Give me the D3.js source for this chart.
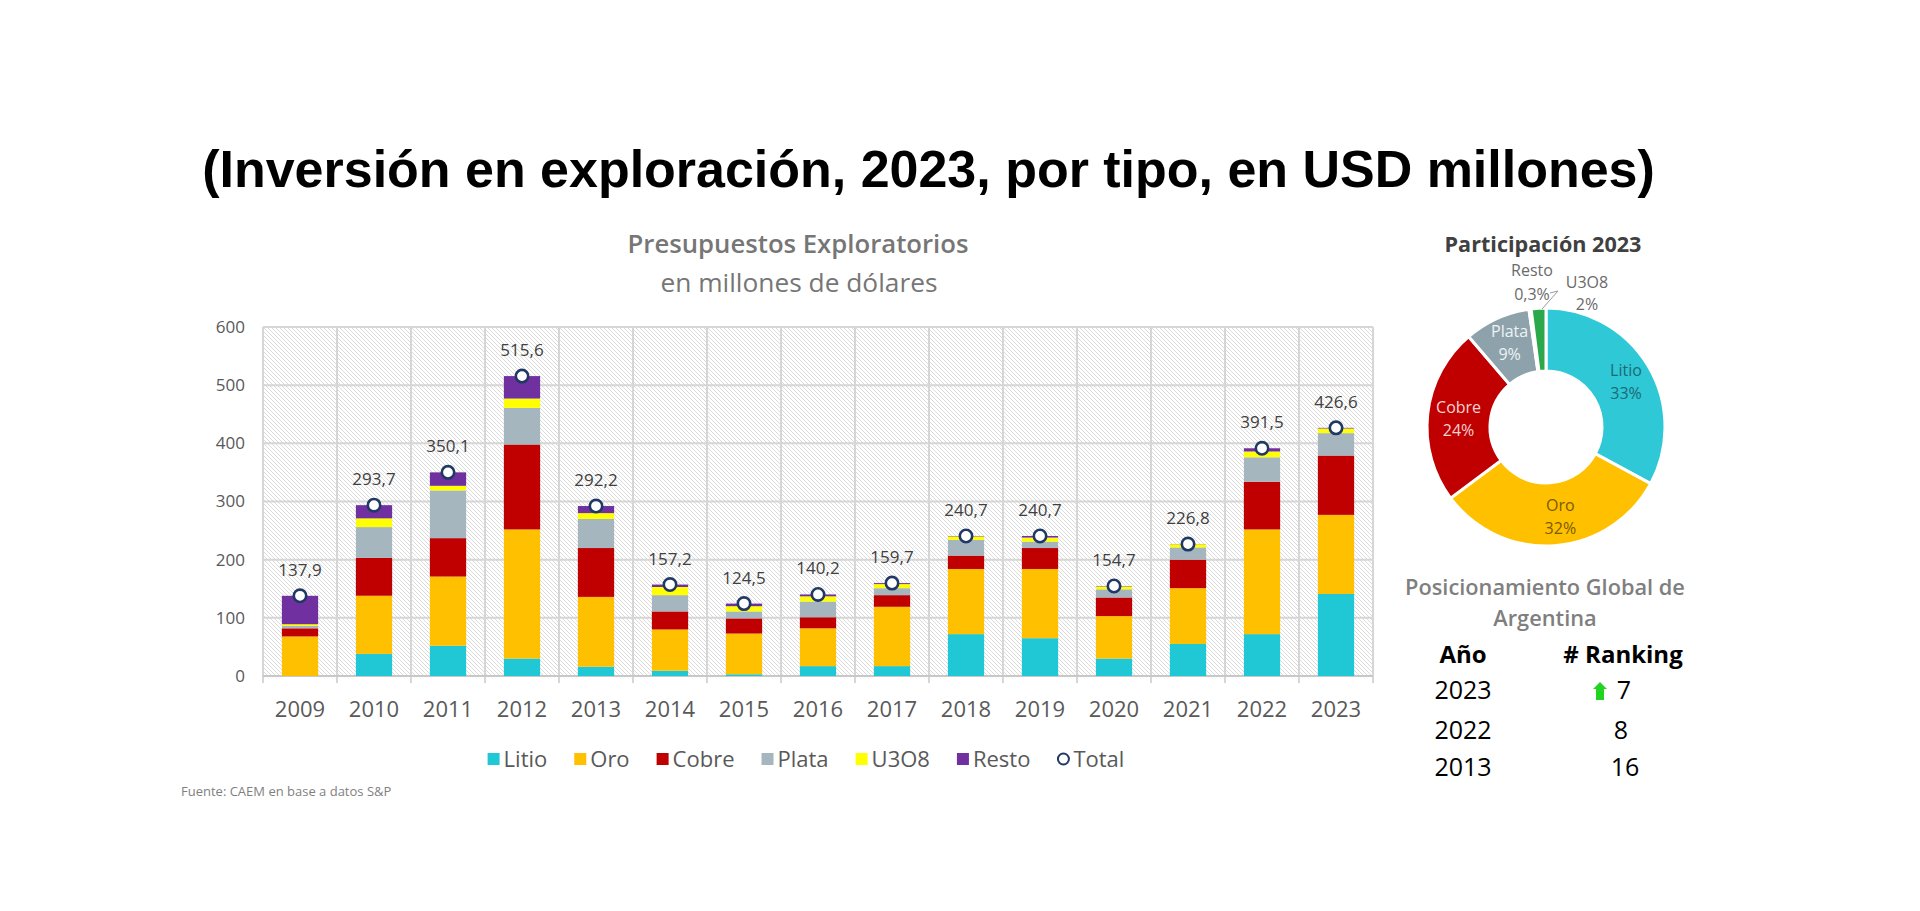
<!DOCTYPE html>
<html><head><meta charset="utf-8">
<script src="https://cdn.jsdelivr.net/npm/d3@7/dist/d3.min.js"></script>
<style>body{margin:0;background:#fff;} svg{display:block;}</style>
</head><body>
<svg id="c" width="1920" height="911"></svg>
<script>
// ---------- DATA ----------
const years  = ["2009","2010","2011","2012","2013","2014","2015","2016","2017","2018","2019","2020","2021","2022","2023"];
const litio  = [0, 38, 52, 30, 16, 9, 3, 17, 17, 72, 65, 30, 55, 72, 141];
const oro    = [68, 100, 119, 222, 120, 71, 70, 65, 102, 112, 119, 73, 96, 180, 136];
const cobre  = [14, 65, 66, 146, 84, 31, 26, 19, 20, 23, 36, 32, 49, 82, 102];
const plata  = [4, 53, 82, 63, 50, 28, 12, 27, 12, 27, 11, 14, 21, 42, 38.5];
const u3o8   = [3, 15, 8, 16, 10, 14, 9, 9, 7, 6, 7, 5, 5.5, 10, 8];
const resto  = [48.9, 22.7, 23.1, 38.6, 12.2, 4.2, 4.5, 3.2, 1.7, 0.7, 2.7, 0.7, 0.3, 5.5, 1.1];
const totals = [137.9, 293.7, 350.1, 515.6, 292.2, 157.2, 124.5, 140.2, 159.7, 240.7, 240.7, 154.7, 226.8, 391.5, 426.6];
const yTicks = [0, 100, 200, 300, 400, 500, 600];
const seriesNames = ["Litio", "Oro", "Cobre", "Plata", "U3O8", "Resto"];
const seriesColors = ["#1FC8D4", "#FFC000", "#C00000", "#A6B6BF", "#FFFF00", "#7030A0"];

const pieNames  = ["Litio", "Oro", "Cobre", "Plata", "Resto", "U3O8"];
const pieValues = [33, 32, 24, 9, 0.3, 2];
const pieLabels = ["33%", "32%", "24%", "9%", "0,3%", "2%"];
const pieColors = ["#2EC8D6", "#FFC000", "#C00000", "#8EA2AC", "#7030A0", "#2BA84A"];
const pieTextColors = ["#1E6A73", "#7A5A00", "#F6D3D3", "#EEF2F5"];

const rankYears  = ["2023", "2022", "2013"];
const rankValues = ["7", "8", "16"];

// ---------- SETUP ----------
const svg = d3.select("#c");
const SANS = "'Open Sans', 'Noto Sans', sans-serif";
function fit(sel, w) {
  const fs = parseFloat(sel.attr("font-size"));
  const cw = sel.node().getComputedTextLength();
  sel.attr("font-size", (fs * w / cw).toFixed(2));
}

// pattern
const defs = svg.append("defs");
const pat = defs.append("pattern").attr("id", "hatch").attr("patternUnits", "userSpaceOnUse")
  .attr("width", 4).attr("height", 4);
pat.append("rect").attr("width", 4).attr("height", 4).attr("fill", "#ffffff");
pat.append("path").attr("d", "M0,0 L4,4 M-1,3 L1,5 M3,-1 L5,1")
  .attr("stroke", "#dcdcdc").attr("stroke-width", 1);

// Title
const title = svg.append("text").attr("x", 928.5).attr("y", 187).attr("text-anchor", "middle")
  .attr("font-family", "'Liberation Sans', Arial, sans-serif").attr("font-weight", "bold")
  .attr("font-size", 52).attr("fill", "#000")
  .text("(Inversión en exploración, 2023, por tipo, en USD millones)");
fit(title, 1453);

const st1 = svg.append("text").attr("x", 798).attr("y", 253).attr("text-anchor", "middle")
  .attr("font-family", SANS).attr("font-weight", 600).attr("font-size", 22).attr("fill", "#767676")
  .text("Presupuestos Exploratorios");
fit(st1, 341);
const st2 = svg.append("text").attr("x", 799).attr("y", 292).attr("text-anchor", "middle")
  .attr("font-family", SANS).attr("font-size", 22).attr("fill", "#767676")
  .text("en millones de dólares");
fit(st2, 277);

// ---------- BAR CHART ----------
const x0 = 263, x1 = 1373;
const x = d3.scaleBand().domain(years).range([x0, x1]).paddingInner(0.51).paddingOuter(0.255);
const y = d3.scaleLinear().domain([0, 600]).range([676, 327]);
const step = x.step();

const plot = svg.append("g");
plot.append("rect").attr("x", x0).attr("y", y(600)).attr("width", x1 - x0).attr("height", y(0) - y(600))
  .attr("fill", "url(#hatch)");

// gridlines
plot.selectAll("line.hg").data(yTicks.filter(d => d > 0)).join("line").attr("class", "hg")
  .attr("x1", x0).attr("x2", x1).attr("y1", d => y(d)).attr("y2", d => y(d))
  .attr("stroke", "#d6d6d6").attr("stroke-width", 2);
const bounds = years.map(d => x(d) + x.bandwidth() / 2 - step / 2).concat([x1]);
plot.selectAll("line.vg").data(bounds).join("line").attr("class", "vg")
  .attr("x1", d => d).attr("x2", d => d).attr("y1", y(600)).attr("y2", y(0) + 7)
  .attr("stroke", "#d6d6d6").attr("stroke-width", 2);
plot.append("line").attr("x1", x0).attr("x2", x1).attr("y1", y(0)).attr("y2", y(0))
  .attr("stroke", "#c8c8c8").attr("stroke-width", 2);

// axes
const yAxis = svg.append("g").attr("transform", `translate(${x0},0)`)
  .call(d3.axisLeft(y).tickValues(yTicks).tickSize(0).tickPadding(18));
yAxis.select(".domain").remove();
yAxis.selectAll("text").attr("font-family", SANS).attr("font-size", 17).attr("fill", "#595959");

const xAxis = svg.append("g").attr("transform", `translate(0,${y(0)})`)
  .call(d3.axisBottom(x).tickSize(0).tickPadding(25));
xAxis.select(".domain").remove();
xAxis.selectAll("text").attr("font-family", SANS).attr("font-size", 22).attr("fill", "#595959");

// stacked bars
const table = years.map((yr, i) => ({
  year: yr, Litio: litio[i], Oro: oro[i], Cobre: cobre[i], Plata: plata[i], U3O8: u3o8[i], Resto: resto[i], total: totals[i]
}));
const color = d3.scaleOrdinal().domain(seriesNames).range(seriesColors);
const stacked = d3.stack().keys(seriesNames)(table);
svg.append("g").selectAll("g").data(stacked).join("g").attr("fill", s => color(s.key))
  .selectAll("rect").data(s => s).join("rect")
  .attr("x", d => x(d.data.year)).attr("width", x.bandwidth())
  .attr("y", d => y(d[1])).attr("height", d => Math.max(0, y(d[0]) - y(d[1])));

// totals
const fmt = v => d3.format(".1f")(v).replace(".", ",");
svg.append("g").selectAll("circle").data(table).join("circle")
  .attr("cx", d => x(d.year) + x.bandwidth() / 2).attr("cy", d => y(d.total)).attr("r", 6.2)
  .attr("fill", "#fff").attr("stroke", "#1F3864").attr("stroke-width", 2.6);
svg.append("g").selectAll("text").data(table).join("text")
  .attr("x", d => x(d.year) + x.bandwidth() / 2).attr("y", d => y(d.total) - 20)
  .attr("text-anchor", "middle").attr("font-family", SANS).attr("font-size", 17).attr("fill", "#404040")
  .text(d => fmt(d.total));

// legend
const legItems = seriesNames.concat(["Total"]);
const leg = svg.append("g");
let lx = 0;
legItems.forEach((name, i) => {
  const g = leg.append("g").attr("transform", `translate(${lx},0)`);
  if (name === "Total") {
    g.append("circle").attr("cx", 6).attr("cy", 0).attr("r", 5.5).attr("fill", "#fff")
      .attr("stroke", "#1F3864").attr("stroke-width", 2);
  } else {
    g.append("rect").attr("x", 0).attr("y", -6).attr("width", 12).attr("height", 12).attr("fill", color(name));
  }
  const t = g.append("text").attr("x", 16).attr("y", 8).attr("font-family", SANS).attr("font-size", 22)
    .attr("fill", "#595959").text(name);
  lx += 16 + t.node().getComputedTextLength() + 27;
});
const legW = lx - 27;
leg.attr("transform", `translate(${806 - legW / 2},759)`);

svg.append("text").attr("x", 181).attr("y", 796).attr("font-family", SANS).attr("font-size", 13)
  .attr("fill", "#7f7f7f").text("Fuente: CAEM en base a datos S&P");

// ---------- DONUT ----------
const cx = 1546, cy = 427;
const pt = svg.append("text").attr("x", 1543).attr("y", 252).attr("text-anchor", "middle")
  .attr("font-family", SANS).attr("font-weight", "bold").attr("font-size", 19).attr("fill", "#404040")
  .text("Participación 2023");
fit(pt, 197);

const pieData = d3.pie().sort(null).value(d => d.v)(pieNames.map((n, i) => ({ n, v: pieValues[i], l: pieLabels[i], c: pieColors[i] })));
const arc = d3.arc().innerRadius(56).outerRadius(119);
const dg = svg.append("g").attr("transform", `translate(${cx},${cy})`);
dg.selectAll("path").data(pieData).join("path").attr("d", arc)
  .attr("fill", d => d.data.c).attr("stroke", "#fff").attr("stroke-width", 3);

// label anchor offsets relative to slice centroid (layout tweak only)
const labelShift = [[0, 0], [8, 0], [0, 0], [0, -6]];
const labelArc = d3.arc().innerRadius(88).outerRadius(88);
pieData.slice(0, 4).forEach((d, i) => {
  let [px, py] = labelArc.centroid(d);
  if (i === 0) { px = 80; py = -47; }
  const ax = px + labelShift[i][0], ay = py + labelShift[i][1];
  const t = dg.append("text").attr("text-anchor", "middle").attr("font-family", SANS).attr("font-size", 16)
    .attr("fill", pieTextColors[i]);
  t.append("tspan").attr("x", ax).attr("y", ay - 4).text(d.data.n);
  t.append("tspan").attr("x", ax).attr("y", ay + 19).text(d.data.l);
});
// small outside labels
[["Resto", 1532, 276], ["0,3%", 1532, 300], ["U3O8", 1587, 288], ["2%", 1587, 310]].forEach(a => {
  svg.append("text").attr("x", a[1]).attr("y", a[2]).attr("text-anchor", "middle")
    .attr("font-family", SANS).attr("font-size", 16).attr("fill", "#6a6a6a").text(a[0]);
});
svg.append("path").attr("d", "M1550,293 L1558,291 L1542,309").attr("fill", "none")
  .attr("stroke", "#9a9a9a").attr("stroke-width", 1);

// ---------- RANKING ----------
const r1 = svg.append("text").attr("x", 1545).attr("y", 595).attr("text-anchor", "middle")
  .attr("font-family", SANS).attr("font-weight", 600).attr("font-size", 20).attr("fill", "#7f7f7f")
  .text("Posicionamiento Global de");
fit(r1, 280);
svg.append("text").attr("x", 1545).attr("y", 626).attr("text-anchor", "middle")
  .attr("font-family", SANS).attr("font-weight", 600).attr("font-size", r1.attr("font-size")).attr("fill", "#7f7f7f")
  .text("Argentina");
svg.append("text").attr("x", 1463).attr("y", 663).attr("text-anchor", "middle")
  .attr("font-family", SANS).attr("font-weight", "bold").attr("font-size", 24).attr("fill", "#000").text("Año");
svg.append("text").attr("x", 1623).attr("y", 663).attr("text-anchor", "middle")
  .attr("font-family", SANS).attr("font-weight", "bold").attr("font-size", 24).attr("fill", "#000").text("# Ranking");
const rowY = [699, 739, 776];
rankYears.forEach((yr, i) => {
  svg.append("text").attr("x", 1463).attr("y", rowY[i]).attr("text-anchor", "middle")
    .attr("font-family", SANS).attr("font-size", 25).attr("fill", "#000").text(yr);
  svg.append("text").attr("x", i === 0 ? 1624 : (i === 1 ? 1621 : 1625)).attr("y", rowY[i]).attr("text-anchor", "middle")
    .attr("font-family", SANS).attr("font-size", 25).attr("fill", "#000").text(rankValues[i]);
});
svg.append("path").attr("transform", "translate(1600,691)")
  .attr("d", "M0,-9 L7,-2 L4,-2 L4,9 L-4,9 L-4,-2 L-7,-2 Z").attr("fill", "#22D422");
</script>
</body></html>
